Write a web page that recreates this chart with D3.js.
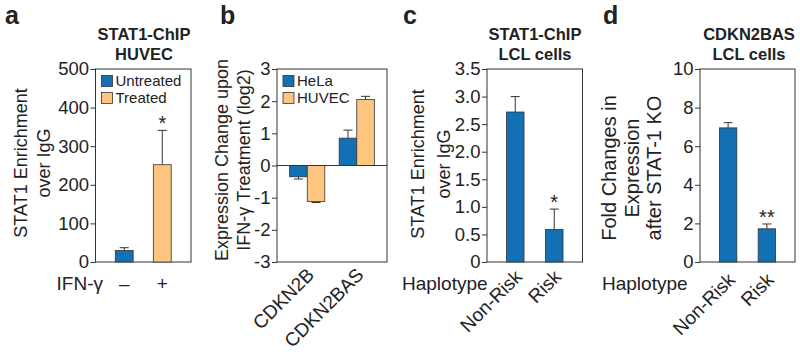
<!DOCTYPE html>
<html>
<head>
<meta charset="utf-8">
<script src="https://cdn.jsdelivr.net/npm/d3@7"></script>
<style>
  body { margin: 0; background: #fff; }
  svg text { font-family: "Liberation Sans", Arial, Helvetica, sans-serif; fill: #222; }
</style>
</head>
<body>
<svg id="fig" width="800" height="352"></svg>
<script>
// ---- data ----
// a: STAT1-ChIP in HUVEC
const aLabels = ["\u2013", "+"];
const aSeries = ["Untreated", "Treated"];
const aValues = [30, 252];
const aErrTop = [37, 341];
const aTicks = [0, 100, 200, 300, 400, 500];

// b: expression change upon IFN-g
const bGenes = ["CDKN2B", "CDKN2BAS"];
const bSeries = ["HeLa", "HUVEC"];
const bHeLa = [-0.35, 0.85];
const bHeLaErr = [-0.42, 1.1];
const bHUVEC = [-1.12, 2.05];
const bHUVECErr = [-1.15, 2.15];
const bTicks = [-3, -2, -1, 0, 1, 2, 3];

// c: STAT1-ChIP in LCL cells
const cHaplotypes = ["Non-Risk", "Risk"];
const cValues = [2.72, 0.59];
const cErrTop = [3.0, 0.96];
const cTicks = [0, 0.5, 1, 1.5, 2, 2.5, 3, 3.5];

// d: CDKN2BAS in LCL cells after STAT-1 KO
const dHaplotypes = ["Non-Risk", "Risk"];
const dValues = [6.95, 1.72];
const dErrTop = [7.22, 1.97];
const dTicks = [0, 2, 4, 6, 8, 10];

const blue = "#1470b4";
const orange = "#fcc580";
const ink = "#333";

const svg = d3.select("#fig");
const plotTop = 69, plotBottom = 262;
const catBase = 289.5; // baseline of the row under the plots

// frame + left axis, returns scales
function panel(x0, x1, domain, ticks, fmt, cats, pi, po) {
  const g = svg.append("g");
  const y = d3.scaleLinear().domain(domain).range([plotBottom, plotTop]);
  const x = d3.scaleBand().domain(cats).range([x0, x1]).paddingInner(pi).paddingOuter(po);

  g.append("g")
    .attr("transform", "translate(" + x0 + ",0)")
    .call(d3.axisLeft(y).tickValues(ticks).tickFormat(fmt).tickSize(5).tickPadding(1.5).tickSizeOuter(0))
    .call(s => s.select(".domain").remove())
    .call(s => s.selectAll("line").attr("stroke", ink))
    .call(s => s.selectAll("text").attr("font-size", 18.5).attr("fill", "#222").attr("font-family", null));

  g.append("rect")
    .attr("x", x0).attr("y", plotTop)
    .attr("width", x1 - x0).attr("height", plotBottom - plotTop)
    .attr("fill", "none").attr("stroke", ink).attr("stroke-width", 1);
  return {g, x, y};
}

function bar(g, x, w, y, v, err, color) {
  const y0 = y(0);
  g.append("rect")
    .attr("x", x).attr("width", w)
    .attr("y", Math.min(y(v), y0))
    .attr("height", Math.abs(y(v) - y0))
    .attr("fill", color).attr("stroke", ink).attr("stroke-width", 0.8);
  const cx = x + w / 2;
  g.append("line").attr("x1", cx).attr("x2", cx).attr("y1", y(v)).attr("y2", y(err))
    .attr("stroke", ink).attr("stroke-width", 1);
  g.append("line").attr("x1", cx - 4.5).attr("x2", cx + 4.5).attr("y1", y(err)).attr("y2", y(err))
    .attr("stroke", ink).attr("stroke-width", 1);
}

function yTitle(x, yc, lines, size) {
  lines.forEach((t, i) => {
    svg.append("text")
      .attr("transform", "translate(" + x[i] + "," + yc + ") rotate(-90)")
      .attr("text-anchor", "middle").attr("font-size", size).text(t);
  });
}

function title(cx, lines) {
  lines.forEach((t, i) => {
    svg.append("text").attr("x", cx).attr("y", 40 + i * 20)
      .attr("text-anchor", "middle").attr("font-size", 16.5).attr("font-weight", "bold").text(t);
  });
}

function letter(x, t) {
  svg.append("text").attr("x", x).attr("y", 24).attr("font-size", 25)
    .attr("font-weight", "bold").attr("fill", "#111").text(t);
}

function legend(x0, names, colors) {
  names.forEach((n, i) => {
    svg.append("rect").attr("x", x0 + 6).attr("y", 75.5 + i * 17).attr("width", 11).attr("height", 11)
      .attr("fill", colors[i]).attr("stroke", ink).attr("stroke-width", 0.8);
    svg.append("text").attr("x", x0 + 20).attr("y", 86 + i * 17).attr("font-size", 15).text(n);
  });
}

function star(cx, yy, t) {
  svg.append("text").attr("x", cx).attr("y", yy).attr("text-anchor", "middle")
    .attr("font-size", 20).text(t);
}

function rotLabels(x, cats, y0, dx) {
  cats.forEach(c => {
    const cx = x(c) + x.bandwidth() / 2 + dx;
    svg.append("text")
      .attr("transform", "translate(" + cx + "," + y0 + ") rotate(-45)")
      .attr("text-anchor", "end").attr("font-size", 19).text(c);
  });
}

// ---- panel a ----
letter(5, "a");
title(144, ["STAT1-ChIP", "HUVEC"]);
yTitle([27, 50], 163, ["STAT1 Enrichment", "over IgG"], 18);
const pa = panel(95.5, 191, [0, 500], aTicks, d => d, aLabels, 0.53, 0.52);
aLabels.forEach((c, i) => {
  bar(pa.g, pa.x(c), pa.x.bandwidth(), pa.y, aValues[i], aErrTop[i], i === 0 ? blue : orange);
  svg.append("text").attr("x", pa.x(c) + pa.x.bandwidth() / 2).attr("y", catBase)
    .attr("text-anchor", "middle").attr("font-size", 19).text(c);
});
svg.append("text").attr("x", 103).attr("y", catBase).attr("text-anchor", "end").attr("font-size", 19).text("IFN-\u03b3");
star(pa.x("+") + pa.x.bandwidth() / 2, pa.y(aErrTop[1]), "*");
legend(95.5, aSeries, [blue, orange]);

// ---- panel b ----
letter(220, "b");
yTitle([228, 250], 160, ["Expression Change upon", "IFN-\u03b3 Treatment (log2)"], 18);
const pb = panel(277, 387, [-3, 3], bTicks, d => String(d), bGenes, 0.29, 0.256);
const sub = d3.scaleBand().domain(bSeries).range([0, pb.x.bandwidth()]);
bGenes.forEach((gName, i) => {
  bar(pb.g, pb.x(gName) + sub("HeLa"), sub.bandwidth(), pb.y, bHeLa[i], bHeLaErr[i], blue);
  bar(pb.g, pb.x(gName) + sub("HUVEC"), sub.bandwidth(), pb.y, bHUVEC[i], bHUVECErr[i], orange);
});
pb.g.append("line").attr("x1", 277).attr("x2", 387).attr("y1", pb.y(0)).attr("y2", pb.y(0))
  .attr("stroke", ink).attr("stroke-width", 1);
legend(277, bSeries, [blue, orange]);
rotLabels(pb.x, bGenes, 276, 8);

// ---- panel c ----
letter(403, "c");
title(535, ["STAT1-ChIP", "LCL cells"]);
yTitle([424, 450], 164, ["STAT1 Enrichment", "over IgG"], 18);
const pc = panel(487, 582.5, [0, 3.5], cTicks, d => d === 0 ? "0" : d.toFixed(1), cHaplotypes, 0.55, 0.5);
cHaplotypes.forEach((c, i) => bar(pc.g, pc.x(c), pc.x.bandwidth(), pc.y, cValues[i], cErrTop[i], blue));
star(pc.x("Risk") + pc.x.bandwidth() / 2, pc.y(cErrTop[1]), "*");
svg.append("text").attr("x", 402).attr("y", catBase).attr("font-size", 19).text("Haplotype");
rotLabels(pc.x, cHaplotypes, 278, 8);

// ---- panel d ----
letter(603, "d");
title(749, ["CDKN2BAS", "LCL cells"]);
yTitle([616, 639, 661], 168, ["Fold Changes in", "Expression", "after STAT-1 KO"], 20);
const pd = panel(700, 795, [0, 10], dTicks, d => d, dHaplotypes, 0.55, 0.5);
dHaplotypes.forEach((c, i) => bar(pd.g, pd.x(c), pd.x.bandwidth(), pd.y, dValues[i], dErrTop[i], blue));
star(pd.x("Risk") + pd.x.bandwidth() / 2, pd.y(dErrTop[1]), "**");
svg.append("text").attr("x", 602).attr("y", catBase).attr("font-size", 19).text("Haplotype");
rotLabels(pd.x, dHaplotypes, 281, 8);
</script>
</body>
</html>
